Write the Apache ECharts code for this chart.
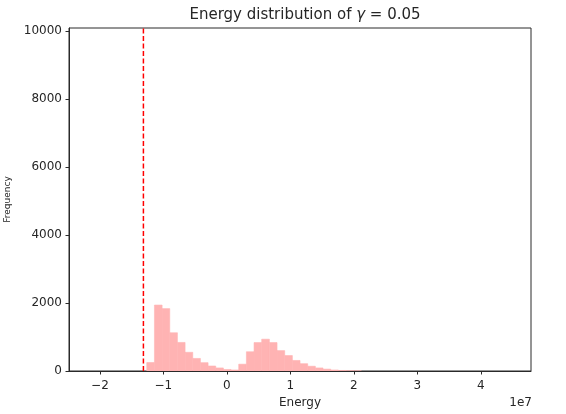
<!DOCTYPE html>
<html><head><meta charset="utf-8">
<script src="https://cdn.jsdelivr.net/npm/echarts@6/dist/echarts.min.js"></script>
<style>html,body{margin:0;padding:0;background:#fff}#c{width:566px;height:414px}</style>
</head><body><div id="c"></div>
<script>
// Energy values in units of 1e7
const binStart = -1.262;
const binWidth = 0.1207;
const counts = [250,1940,1835,1125,840,550,370,245,147,90,45,30,200,566,837,935,837,600,455,310,215,140,90,55,30,15,8,4];
const xTicks = [-2,-1,0,1,2,3,4];
const yTicks = [0,2000,4000,6000,8000,10000];
const groundEnergy = -1.315;
const xRange = [-2.487, 4.79];
const yRange = [0, 10090];

const barData = counts.map((c, i) => [binStart + i * binWidth, binStart + (i + 1) * binWidth, c]);
const FONT = 'DejaVu Sans';
const TXT = '#262626';
const FRAME = '#2a2a2a';
const fmt = v => (v < 0 ? '\u2212' + (-v) : String(v));

const chart = echarts.init(document.getElementById('c'), null, {renderer: 'canvas'});
chart.setOption({
  animation: false,
  backgroundColor: '#fff',
  title: {
    text: '{a|Energy distribution of }{g|γ}{a| = 0.05}',
    left: 300, top: 3, textAlign: 'center',
    textStyle: {
      rich: {
        a: {fontFamily: FONT, fontSize: 15, color: TXT, fontWeight: 'normal'},
        g: {fontFamily: FONT, fontSize: 15, color: TXT, fontStyle: 'italic', fontWeight: 'normal'}
      }
    }
  },
  grid: {left: 69, right: 35, top: 28, bottom: 43, outerBoundsMode: 'none', containLabel: false,
         show: true, borderColor: FRAME, borderWidth: 1, backgroundColor: 'transparent'},
  xAxis: {
    type: 'value', min: xRange[0], max: xRange[1],
    name: 'Energy', nameLocation: 'middle', nameGap: 26,
    nameTextStyle: {fontFamily: FONT, fontSize: 12, color: TXT},
    axisLine: {show: true, onZero: false, lineStyle: {color: FRAME, width: 1}},
    axisTick: {show: true, length: 3.5, lineStyle: {color: FRAME}, customValues: xTicks},
    axisLabel: {fontFamily: FONT, fontSize: 12, color: TXT, margin: 9, formatter: fmt, customValues: xTicks},
    splitLine: {show: false}
  },
  yAxis: {
    type: 'value', min: yRange[0], max: yRange[1],
    name: 'Frequency', nameLocation: 'middle', nameGap: 57, nameRotate: 90,
    nameTextStyle: {fontFamily: FONT, fontSize: 9, color: TXT},
    axisLine: {show: true, onZero: false, lineStyle: {color: FRAME, width: 1}},
    axisTick: {show: true, length: 3.5, lineStyle: {color: FRAME}, customValues: yTicks},
    axisLabel: {fontFamily: FONT, fontSize: 12, color: TXT, margin: 7, formatter: v => String(v), customValues: yTicks},
    splitLine: {show: false}
  },
  graphic: [{
    type: 'text', right: 34, top: 397,
    style: {text: '1e7', fontFamily: FONT, fontSize: 12, fill: TXT}
  }],
  series: [{
    type: 'custom',
    data: barData,
    encode: {x: [0, 1], y: 2},
    clip: true,
    renderItem: (params, api) => {
      const p0 = api.coord([api.value(0), api.value(2)]);
      const p1 = api.coord([api.value(1), 0]);
      return {type: 'rect', shape: {x: p0[0], y: p0[1], width: p1[0] - p0[0], height: p1[1] - p0[1]},
              style: {fill: '#ffb3b3', stroke: '#ffb3b3', lineWidth: 0.6}};
    }
  }, {
    type: 'line',
    data: [[groundEnergy, yRange[0]], [groundEnergy, yRange[1]]],
    symbol: 'none',
    lineStyle: {color: '#ff0000', width: 1.5, type: [5, 2.5]},
    z: 5
  }]
});
</script></body></html>
